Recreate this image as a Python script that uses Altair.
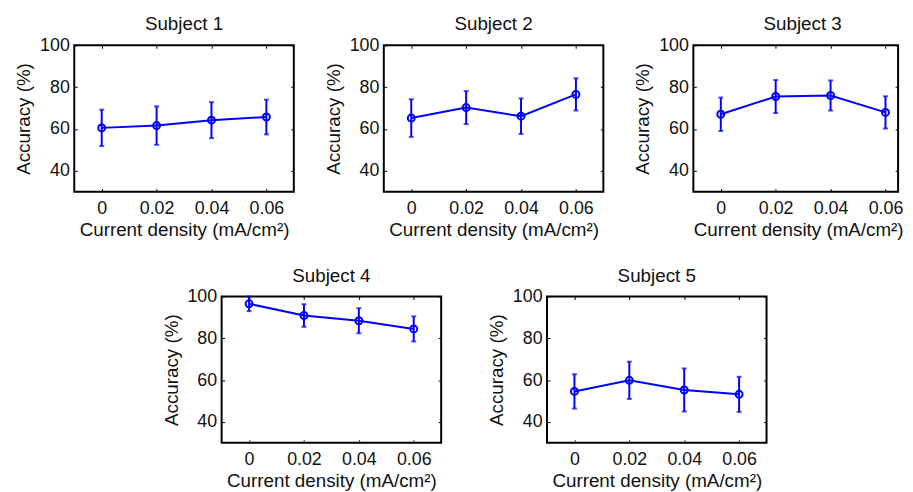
import altair as alt
import pandas as pd

x_vals = [0, 0.02, 0.04, 0.06]
subjects = ["Subject 1", "Subject 2", "Subject 3", "Subject 4", "Subject 5"]
means = [
    [60.5, 61.6, 64.2, 65.7],
    [65.2, 70.2, 66.1, 76.5],
    [67.0, 75.5, 76.0, 67.9],
    [96.5, 90.9, 88.4, 84.5],
    [54.6, 59.9, 55.3, 53.2],
]
errs = [
    [8.7, 9.2, 8.6, 8.3],
    [9.0, 7.9, 8.5, 7.7],
    [8.0, 7.9, 7.2, 7.7],
    [3.5, 5.4, 6.0, 6.0],
    [8.2, 8.9, 10.3, 8.4],
]

BLUE = "#0000FF"
FONT = "Liberation Sans"
TXT = "#111111"
W, H = 222, 148
PX_PER_UNIT = W / 0.08
TICK = 3


def panel(i, w=W, h=H, title_dx=0):
    df = pd.DataFrame({
        "x": x_vals,
        "m": means[i],
        "lo": [m - e for m, e in zip(means[i], errs[i])],
        "hi": [m + e for m, e in zip(means[i], errs[i])],
    })
    xmax = -0.01 + w / PX_PER_UNIT
    xs = alt.Scale(domain=[-0.01, xmax], nice=False, zero=False)
    ys = alt.Scale(domain=[30, 100], nice=False, zero=False)
    xaxis = alt.Axis(values=x_vals, format=".2~f", title="Current density (mA/cm²)",
                     gridDash=[TICK, h - 2 * TICK, TICK, 2000],
                     titleX=W / 2 - 5 if w != W else w / 2)
    yaxis = alt.Axis(values=[40, 60, 80, 100], format="d", title="Accuracy (%)",
                     gridDash=[TICK, w - 2 * TICK, TICK, 2000])
    base = alt.Chart(df).encode(x=alt.X("x:Q", scale=xs, axis=xaxis))
    bars = base.mark_rule(color=BLUE, strokeWidth=2).encode(
        y=alt.Y("lo:Q", scale=ys, axis=yaxis), y2="hi:Q")
    cap_lo = base.mark_tick(color=BLUE, orient="horizontal", size=5, thickness=2).encode(
        y=alt.Y("lo:Q", scale=ys, axis=yaxis))
    cap_hi = base.mark_tick(color=BLUE, orient="horizontal", size=5, thickness=2).encode(
        y=alt.Y("hi:Q", scale=ys, axis=yaxis))
    line = base.mark_line(color=BLUE, strokeWidth=2).encode(
        y=alt.Y("m:Q", scale=ys, axis=yaxis))
    pts = base.mark_point(color=BLUE, shape="circle", filled=False, size=50,
                          strokeWidth=2, opacity=1).encode(
        y=alt.Y("m:Q", scale=ys, axis=yaxis))
    return alt.layer(bars, cap_lo, cap_hi, line, pts).properties(
        width=w, height=h,
        title=alt.TitleParams(subjects[i], dx=title_dx) if title_dx else subjects[i])


spacer_df = pd.DataFrame({"a": [0.5]})
spacer = alt.Chart(spacer_df).mark_point(opacity=0, size=1).encode(
    x=alt.X("a:Q", axis=None, scale=alt.Scale(domain=[0, 1])),
    y=alt.Y("a:Q", axis=None, scale=alt.Scale(domain=[0, 1])),
).properties(width=42, height=10,
             view=alt.ViewBackground(stroke="transparent", strokeWidth=0))

row1 = alt.hconcat(panel(0), panel(1), panel(2, w=207, title_dx=7),
                   spacing=91, bounds="flush")
row2 = alt.hconcat(spacer, panel(3), panel(4), spacing=107, bounds="flush")

chart = alt.vconcat(row1, row2, spacing=26).properties(
    padding={"left": 5, "top": 4, "right": 0, "bottom": 0}
).configure_view(
    stroke="black", strokeWidth=2
).configure_axis(
    labelFont=FONT, labelFontSize=18, labelColor=TXT,
    titleFont=FONT, titleFontSize=19, titleFontWeight="normal", titleColor=TXT,
    domain=False, ticks=False, tickSize=0,
    grid=True, gridColor="black", gridOpacity=1, gridWidth=1,
).configure_axisX(
    labelPadding=8, titlePadding=3,
).configure_axisY(
    labelPadding=5, titlePadding=6,
).configure_title(
    font=FONT, fontSize=19, fontWeight="normal", color=TXT, offset=2,
)

chart.save("out.html", embed_options={"renderer": "svg", "actions": False})
